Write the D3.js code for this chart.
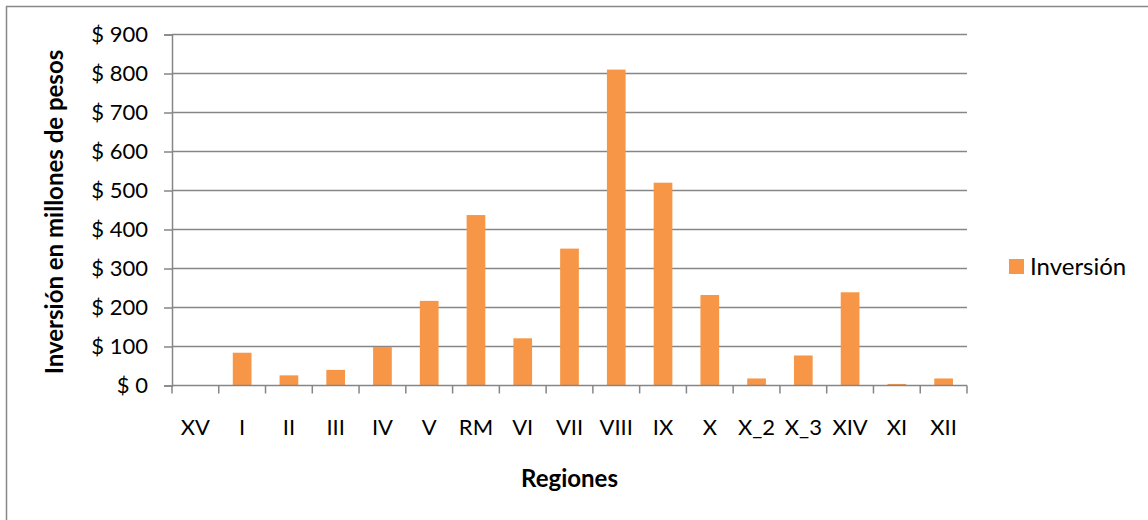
<!DOCTYPE html>
<html>
<head>
<meta charset="utf-8">
<script src="https://cdn.jsdelivr.net/npm/d3@7"></script>
<style>
  html, body { margin: 0; padding: 0; background: #fff; }
  svg { display: block; }
  text { font-family: Lato, "Open Sans", sans-serif; fill: #000; }
</style>
</head>
<body>
<svg id="chart" width="1148" height="520"></svg>
<script>
// Inversión por región (millones de pesos)
const regiones = ["XV", "I", "II", "III", "IV", "V", "RM", "VI", "VII", "VIII", "IX", "X", "X_2", "X_3", "XIV", "XI", "XII"];
const inversion = [0, 84, 26, 40, 99, 217, 437, 121, 351, 810, 520, 232, 18, 77, 239, 4, 18];
const yTicks = [0, 100, 200, 300, 400, 500, 600, 700, 800, 900];
const serieNombre = "Inversión";
const ejeX = "Regiones";
const ejeY = "Inversión en millones de pesos";

const svg = d3.select("#chart");
const plot = { left: 172, right: 967, top: 34.5, bottom: 385.5 };
const barColor = "#f79646";
const gridColor = "#868686";

// outer chart frame (only top/left edges fall inside the page)
svg.append("rect")
  .attr("x", 6.5).attr("y", 6.5)
  .attr("width", 1160).attr("height", 540)
  .attr("fill", "none").attr("stroke", "#888").attr("stroke-width", 1.5);

const xCat = d3.scaleBand().domain(regiones).range([plot.left, plot.right]);
const y = d3.scaleLinear().domain([0, 900]).range([plot.bottom, plot.top]);

// horizontal gridlines
svg.append("g").selectAll("line").data(yTicks.filter(t => t > 0)).join("line")
  .attr("x1", plot.left).attr("x2", plot.right)
  .attr("y1", d => y(d)).attr("y2", d => y(d))
  .attr("stroke", gridColor).attr("stroke-width", 1.5);

// bars (gap width 150%)
const barW = xCat.bandwidth() / 2.5;
svg.append("g").selectAll("rect").data(regiones).join("rect")
  .attr("x", d => xCat(d) + (xCat.bandwidth() - barW) / 2)
  .attr("width", barW)
  .attr("y", (d, i) => y(inversion[i]))
  .attr("height", (d, i) => y(0) - y(inversion[i]))
  .attr("fill", barColor);

// y axis
const yAxis = d3.axisLeft(y).tickValues(yTicks).tickSize(8).tickPadding(16)
  .tickFormat(d => "$ " + d);
const gy = svg.append("g").attr("transform", `translate(${plot.left},0)`).call(yAxis);
gy.select(".domain").attr("stroke", gridColor).attr("stroke-width", 1.5);
gy.selectAll(".tick line").attr("stroke", gridColor).attr("stroke-width", 1.5);
gy.selectAll("text").style("font-size", "22px").attr("fill", "#000");

// x axis: ticks at category boundaries
const gx = svg.append("g").attr("transform", `translate(0,${plot.bottom})`);
gx.append("line").attr("x1", plot.left).attr("x2", plot.right)
  .attr("stroke", gridColor).attr("stroke-width", 1.5);
const bounds = regiones.map(d => xCat(d)).concat([plot.right]);
gx.selectAll("line.tk").data(bounds).join("line").attr("class", "tk")
  .attr("x1", d => d).attr("x2", d => d).attr("y1", 0).attr("y2", 8)
  .attr("stroke", gridColor).attr("stroke-width", 1.5);
gx.selectAll("text").data(regiones).join("text")
  .attr("x", d => xCat(d) + xCat.bandwidth() / 2)
  .attr("y", 49)
  .attr("text-anchor", "middle")
  .style("font-size", "22px")
  .text(d => d);

// axis titles
svg.append("text")
  .attr("x", (plot.left + plot.right) / 2).attr("y", 487)
  .attr("text-anchor", "middle")
  .style("font-size", "24px").style("font-weight", "bold")
  .text(ejeX);
svg.append("text")
  .attr("transform", `translate(63,${(plot.top + plot.bottom) / 2 + 2}) rotate(-90)`)
  .attr("text-anchor", "middle")
  .style("font-size", "24px").style("font-weight", "bold")
  .text(ejeY);

// legend
const lg = svg.append("g").attr("transform", "translate(1009,267)");
lg.append("rect").attr("x", 0).attr("y", -8).attr("width", 15).attr("height", 15).attr("fill", barColor);
lg.append("text").attr("x", 21).attr("y", 8).style("font-size", "24px").text(serieNombre);
</script>
</body>
</html>
